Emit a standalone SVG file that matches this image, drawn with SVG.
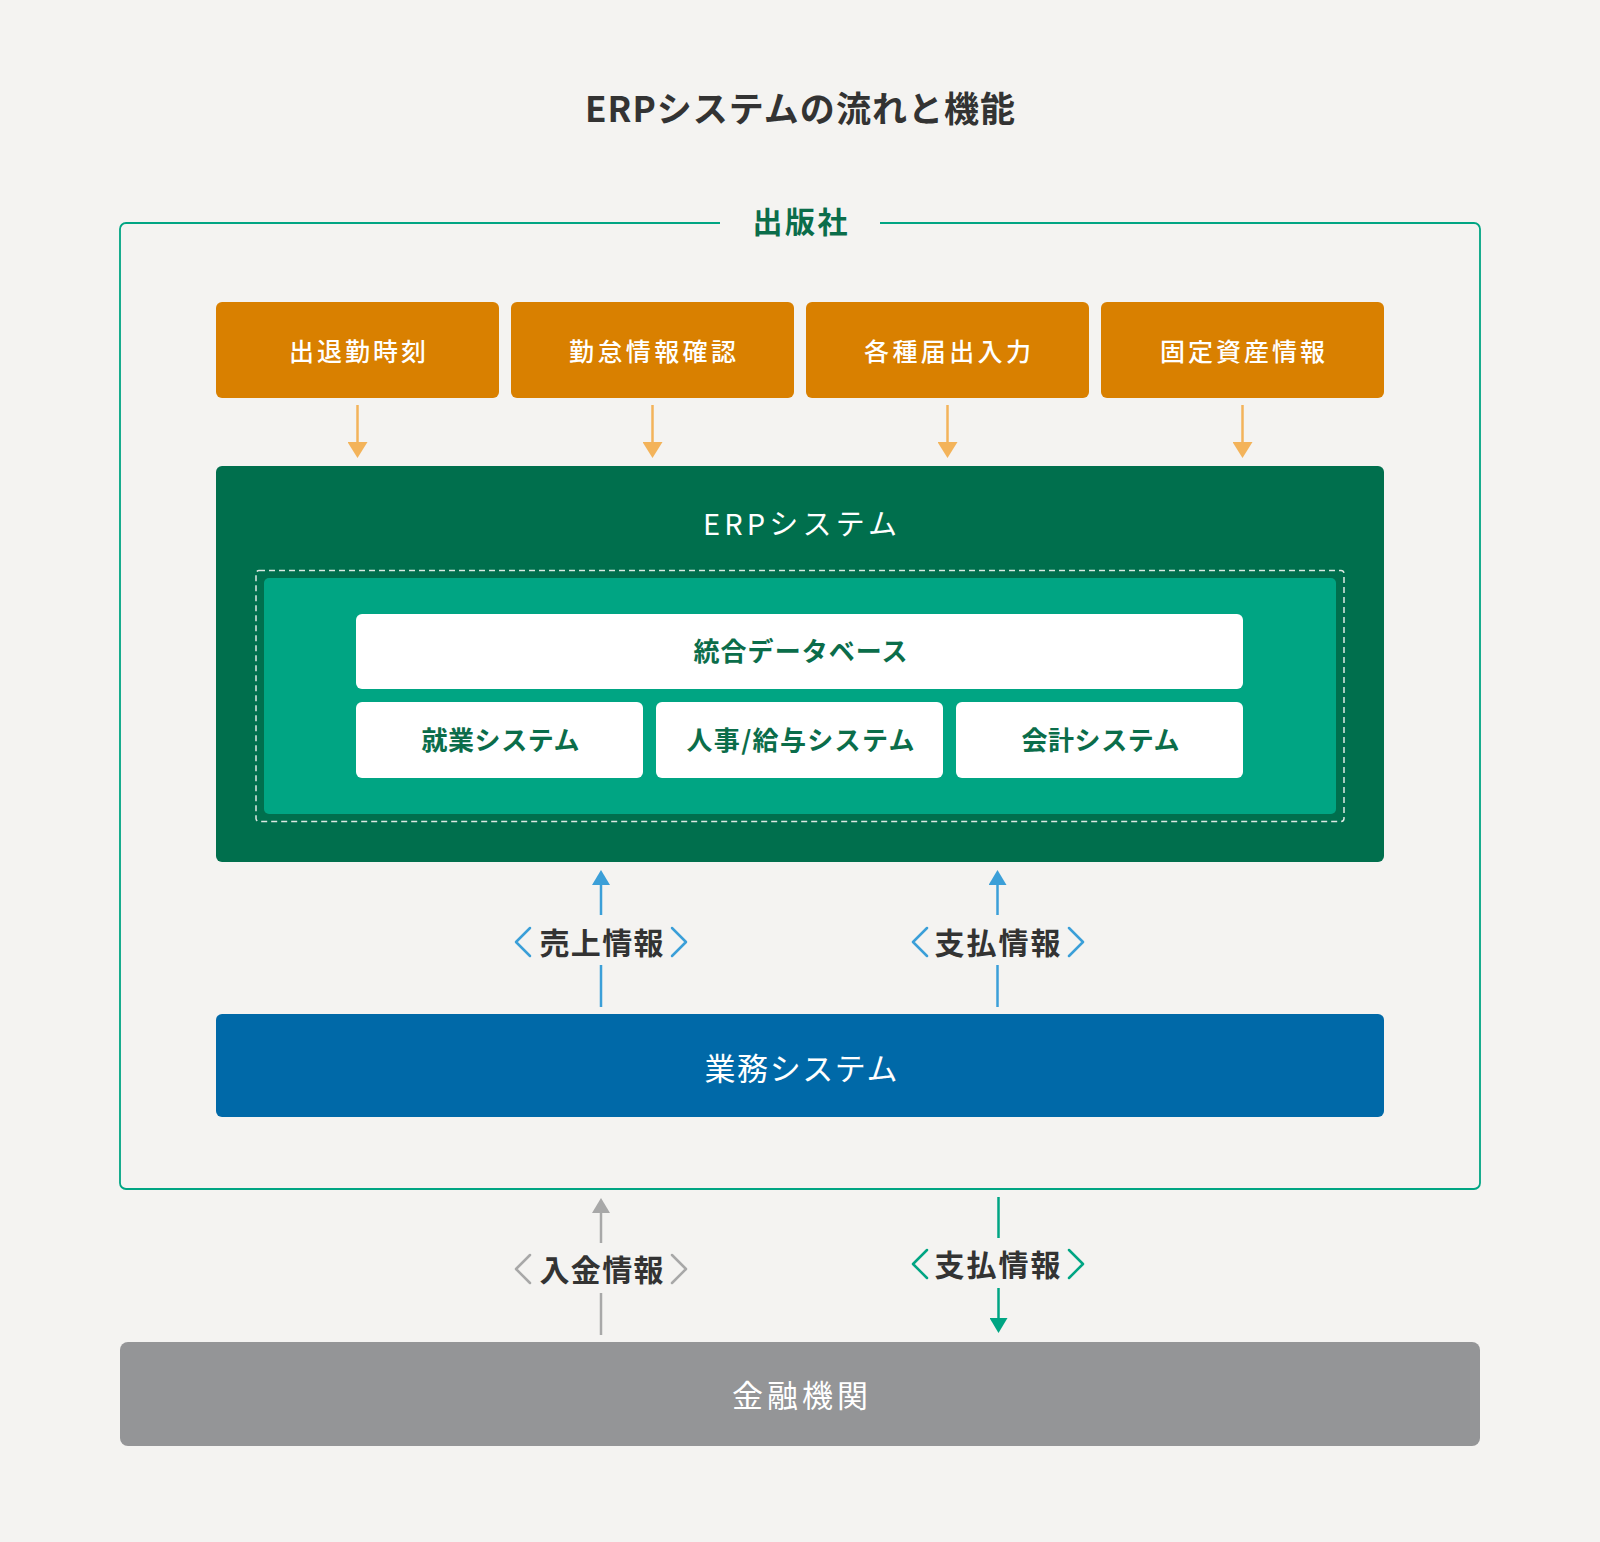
<svg xmlns="http://www.w3.org/2000/svg" width="1600" height="1542" viewBox="0 0 1600 1542">
<defs>
<style>
text{font-family:"Noto Sans CJK JP","Noto Sans",sans-serif;text-anchor:middle;dominant-baseline:central;}
.title{font-size:35px;font-weight:700;fill:#333333;}
.org{font-size:30px;font-weight:700;fill:#0b6d4a;}
.obox{fill:#d98000;}
.otxt{font-size:25px;font-weight:500;fill:#ffffff;}
.wbox{fill:#ffffff;}
.gtxt{font-size:26px;font-weight:700;fill:#0b6d4a;}
.wtxt{fill:#ffffff;font-weight:400;}
.alab{font-size:30px;font-weight:700;fill:#333333;}
.chev{fill:none;stroke-width:2.5;stroke-linecap:round;stroke-linejoin:round;}
.ln{fill:none;stroke-width:2.5;}
</style>
<marker id="mOrange" markerUnits="userSpaceOnUse" markerWidth="16" markerHeight="20" viewBox="0 0 16 20" refX="0" refY="10" orient="auto"><path d="M0,0 L16,10 L0,20 Z" fill="#f3b35a"/></marker>
<marker id="mBlue" markerUnits="userSpaceOnUse" markerWidth="15" markerHeight="18" viewBox="0 0 15 18" refX="0" refY="9" orient="auto"><path d="M0,0 L15,9 L0,18 Z" fill="#3b9fd8"/></marker>
<marker id="mGray" markerUnits="userSpaceOnUse" markerWidth="15" markerHeight="18" viewBox="0 0 15 18" refX="0" refY="9" orient="auto"><path d="M0,0 L15,9 L0,18 Z" fill="#a8a8a8"/></marker>
<marker id="mGreen" markerUnits="userSpaceOnUse" markerWidth="15" markerHeight="18" viewBox="0 0 15 18" refX="0" refY="9" orient="auto"><path d="M0,0 L15,9 L0,18 Z" fill="#00a583"/></marker>
</defs>
<rect x="0" y="0" width="1600" height="1542" fill="#f4f3f1"/>

<g id="title"><text class="title" x="800" y="106.5" textLength="430" lengthAdjust="spacing">ERPシステムの流れと機能</text></g>

<g id="publisher">
<path d="M720,223 H126 A6,6 0 0 0 120,229 V1183 A6,6 0 0 0 126,1189 H1474 A6,6 0 0 0 1480,1183 V229 A6,6 0 0 0 1474,223 H880" fill="none" stroke="#00a583" stroke-width="1.8"/>
<text class="org" x="800" y="220" textLength="95" lengthAdjust="spacing">出版社</text>
</g>

<g id="input1"><rect class="obox" x="216" y="302" width="283" height="96" rx="6"/><text class="otxt" x="357.5" y="349.5" textLength="137" lengthAdjust="spacing">出退勤時刻</text></g>
<g id="input2"><rect class="obox" x="511" y="302" width="283" height="96" rx="6"/><text class="otxt" x="652.5" y="349.5" textLength="167" lengthAdjust="spacing">勤怠情報確認</text></g>
<g id="input3"><rect class="obox" x="806" y="302" width="283" height="96" rx="6"/><text class="otxt" x="947.5" y="349.5" textLength="167" lengthAdjust="spacing">各種届出入力</text></g>
<g id="input4"><rect class="obox" x="1101" y="302" width="283" height="96" rx="6"/><text class="otxt" x="1242.5" y="349.5" textLength="165" lengthAdjust="spacing">固定資産情報</text></g>

<g id="erp">
<rect x="216" y="466" width="1168" height="396" rx="6" fill="#006f4d"/>
<text class="wtxt" x="800" y="521.5" font-size="29" textLength="194" lengthAdjust="spacing">ERPシステム</text>
<rect x="256" y="570.5" width="1088" height="251" rx="3" fill="none" stroke="#dce8e2" stroke-width="1.5" stroke-dasharray="6 4"/>
<rect x="264" y="578" width="1072" height="236" rx="5" fill="#00a583"/>
</g>

<g id="database"><rect class="wbox" x="356" y="614" width="887" height="75" rx="6"/><text class="gtxt" x="800.5" y="649.5" textLength="214" lengthAdjust="spacing">統合データベース</text></g>
<g id="work"><rect class="wbox" x="356" y="702" width="287" height="76" rx="6"/><text class="gtxt" x="500.5" y="738.5" textLength="158" lengthAdjust="spacing">就業システム</text></g>
<g id="hr"><rect class="wbox" x="656" y="702" width="287" height="76" rx="6"/><text class="gtxt" x="800.5" y="738.5" textLength="228" lengthAdjust="spacing">人事/給与システム</text></g>
<g id="accounting"><rect class="wbox" x="956" y="702" width="287" height="76" rx="6"/><text class="gtxt" x="1100.5" y="738.5" textLength="158" lengthAdjust="spacing">会計システム</text></g>

<g id="business"><rect x="216" y="1014" width="1168" height="103" rx="6" fill="#0069a8"/><text class="wtxt" x="801" y="1066" font-size="31" textLength="193" lengthAdjust="spacing">業務システム</text></g>

<g id="bank"><rect x="120" y="1342" width="1360" height="104" rx="8" fill="#949597"/><text class="wtxt" x="800" y="1393.5" font-size="31" font-weight="500" textLength="136" lengthAdjust="spacing">金融機関</text></g>

<g id="connectors">
<line class="ln" x1="357.5" y1="405" x2="357.5" y2="442" stroke="#f3b35a" marker-end="url(#mOrange)"/>
<line class="ln" x1="652.5" y1="405" x2="652.5" y2="442" stroke="#f3b35a" marker-end="url(#mOrange)"/>
<line class="ln" x1="947.5" y1="405" x2="947.5" y2="442" stroke="#f3b35a" marker-end="url(#mOrange)"/>
<line class="ln" x1="1242.5" y1="405" x2="1242.5" y2="442" stroke="#f3b35a" marker-end="url(#mOrange)"/>

<line class="ln" x1="601" y1="1007" x2="601" y2="965" stroke="#3b9fd8"/>
<line class="ln" x1="601" y1="915" x2="601" y2="885" stroke="#3b9fd8" marker-end="url(#mBlue)"/>
<line class="ln" x1="997.5" y1="1007" x2="997.5" y2="965" stroke="#3b9fd8"/>
<line class="ln" x1="997.5" y1="915" x2="997.5" y2="885" stroke="#3b9fd8" marker-end="url(#mBlue)"/>

<line class="ln" x1="601" y1="1335" x2="601" y2="1293" stroke="#a8a8a8"/>
<line class="ln" x1="601" y1="1243" x2="601" y2="1213" stroke="#a8a8a8" marker-end="url(#mGray)"/>
<line class="ln" x1="998.5" y1="1197" x2="998.5" y2="1238" stroke="#00a583"/>
<line class="ln" x1="998.5" y1="1288" x2="998.5" y2="1318" stroke="#00a583" marker-end="url(#mGreen)"/>

<g id="label-sales">
<path class="chev" stroke="#3b9fd8" d="M530,928 L516,942 L530,956 M672,928 L686,942 L672,956"/>
<text class="alab" x="601.5" y="940.5" textLength="124" lengthAdjust="spacing">売上情報</text>
</g>
<g id="label-pay1">
<path class="chev" stroke="#3b9fd8" d="M927,928 L913,942 L927,956 M1069,928 L1083,942 L1069,956"/>
<text class="alab" x="997.5" y="940.5" textLength="126" lengthAdjust="spacing">支払情報</text>
</g>
<g id="label-deposit">
<path class="chev" stroke="#a8a8a8" d="M530,1255 L516,1269 L530,1283 M672,1255 L686,1269 L672,1283"/>
<text class="alab" x="601.5" y="1268" textLength="124" lengthAdjust="spacing">入金情報</text>
</g>
<g id="label-pay2">
<path class="chev" stroke="#00a583" d="M927,1250 L913,1264 L927,1278 M1069,1250 L1083,1264 L1069,1278"/>
<text class="alab" x="997.5" y="1262.5" textLength="126" lengthAdjust="spacing">支払情報</text>
</g>
</g>
</svg>
